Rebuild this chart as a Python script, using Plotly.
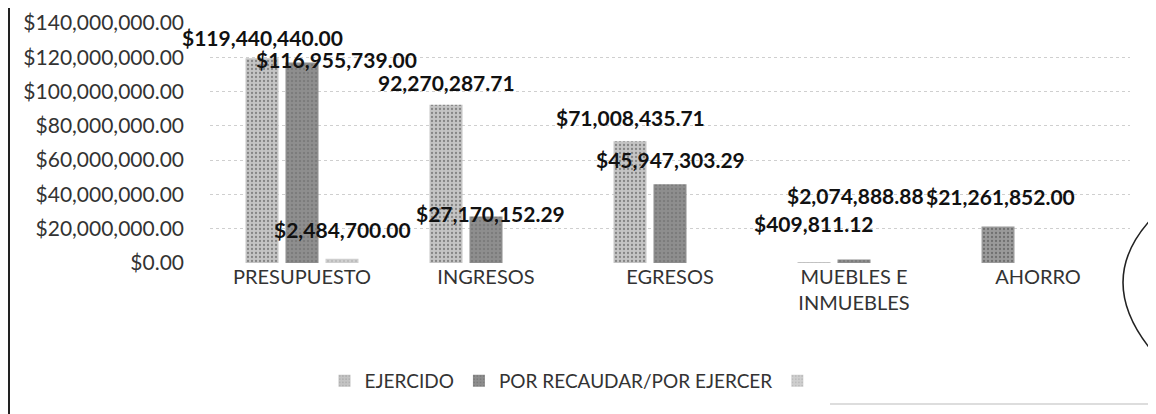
import plotly.graph_objects as go

# ---- data ----
categories = ["PRESUPUESTO", "INGRESOS", "EGRESOS", "MUEBLES E<br>INMUEBLES", "AHORRO"]
series_names = ["EJERCIDO", "POR RECAUDAR/POR EJERCER", ""]
ejercido = [119440440.00, 92270287.71, 71008435.71, 409811.12, 21261852.00]
por_recaudar = [116955739.00, 27170152.29, 45947303.29, 2074888.88, 0]
tercera = [2484700.00, 0, 0, 0, 0]
y_ticks = [0, 20000000, 40000000, 60000000, 80000000, 100000000, 120000000, 140000000]

# which labels carry a "$" sign (as printed in the original)
ejercido_prefix = ["$", "", "$", "$", "$"]

# ---- style ----
FONT = "Lato, 'Open Sans', sans-serif"
colors = ["#c4c4c4", "#8e8e8e", "#cfcfcf"]
ahorro_color = "#9a9a9a"
slot_px = [-40, 0, 40]          # pixel offset of each series slot from category centre

fig = go.Figure()
ej_colors = [colors[0]] * 4 + [ahorro_color]
fig.add_trace(go.Bar(x=categories, y=ejercido, name=series_names[0],
                     marker=dict(color=ej_colors, line=dict(width=0),
                                 pattern=dict(shape=".", fgcolor="#9c9c9c", bgcolor=colors[0], size=4, solidity=0.25))))
fig.add_trace(go.Bar(x=categories, y=por_recaudar, name=series_names[1],
                     marker=dict(color=colors[1], line=dict(width=0),
                                 pattern=dict(shape=".", fgcolor="#6a6a6a", bgcolor=colors[1], size=4, solidity=0.3))))
fig.add_trace(go.Bar(x=categories, y=tercera, name=" ",
                     marker=dict(color=colors[2], line=dict(width=0),
                                 pattern=dict(shape=".", fgcolor="#a8a8a8", bgcolor=colors[2], size=4, solidity=0.25))))

# ---- data labels (manually placed in the original) ----
# (series index, category index, xshift, yshift above bar top)
label_specs = [
    (0, 0, 0, 21), (1, 0, 34, 3), (2, 0, 0, 29),
    (0, 1, 0, 22), (1, 1, 4, 3),
    (0, 2, 0, 24), (1, 2, 0, 25),
    (0, 3, 0, 39), (1, 3, 1, 64),
    (0, 4, 2, 30),
]
all_series = [ejercido, por_recaudar, tercera]
for s, c, dx, dy in label_specs:
    v = all_series[s][c]
    prefix = ejercido_prefix[c] if s == 0 else "$"
    fig.add_annotation(x=categories[c], y=v, xref="x", yref="y",
                       text=f"<b>{prefix}{v:,.2f}</b>", showarrow=False,
                       xshift=slot_px[s] + dx, yshift=dy, yanchor="middle",
                       font=dict(family=FONT, size=21, color="#111"))

# ---- layout geometry (page is offset by the 8px default body margin) ----
OFF = 8
W, H = 1156 - OFF, 414 - OFF
L, R, T, B = 202, 26, 15, 151
pw, ph = W - L - R, H - T - B
def px(x): return (x - OFF - L) / pw       # page pixel -> paper x
def py(y): return (H - B - (y - OFF)) / ph  # page pixel -> paper y

# ---- decorations from the scanned page ----
shapes = [
    dict(type="line", xref="paper", yref="paper", x0=px(9), x1=px(9), y0=py(0), y1=py(420),
         line=dict(color="#222", width=2)),
    dict(type="line", xref="paper", yref="paper", x0=px(830), x1=px(1160), y0=py(404), y1=py(404),
         line=dict(color="#bbb", width=1)),
    dict(type="path", xref="paper", yref="paper",
         path=f"M {px(1158)},{py(212)} Q {px(1088)},{py(280)} {px(1158)},{py(358)}",
         line=dict(color="#222", width=1.5)),
]

fig.update_layout(
    width=W, height=H,
    margin=dict(l=L, r=R, t=T, b=B, autoexpand=False),
    paper_bgcolor="white", plot_bgcolor="white",
    barmode="group", bargap=0.348, bargroupgap=0.175,
    font=dict(family=FONT, size=20, color="#333"),
    showlegend=True,
    legend=dict(orientation="h", xref="container", yref="container",
                x=(576 - OFF) / W, xanchor="center", y=1 - (381 - OFF) / H, yanchor="middle",
                font=dict(family=FONT, size=19, color="#333"), itemwidth=30,
                traceorder="normal"),
    shapes=shapes,
)
fig.update_xaxes(range=[-0.5, len(categories) - 0.5], showgrid=False, showline=False, ticks="",
                 automargin=False, tickfont=dict(size=20, color="#333"))
fig.update_yaxes(range=[0, 140000000], tickvals=y_ticks, automargin=False,
                 ticktext=[f"${v:,.2f}" for v in y_ticks], ticklabeloverflow="allow",
                 showgrid=True, gridcolor="#cfcfcf", griddash="dot", gridwidth=1,
                 zeroline=False, showline=False, ticks="", ticklabelstandoff=25,
                 tickfont=dict(size=21, color="#333"))

fig.write_html("out.html")
